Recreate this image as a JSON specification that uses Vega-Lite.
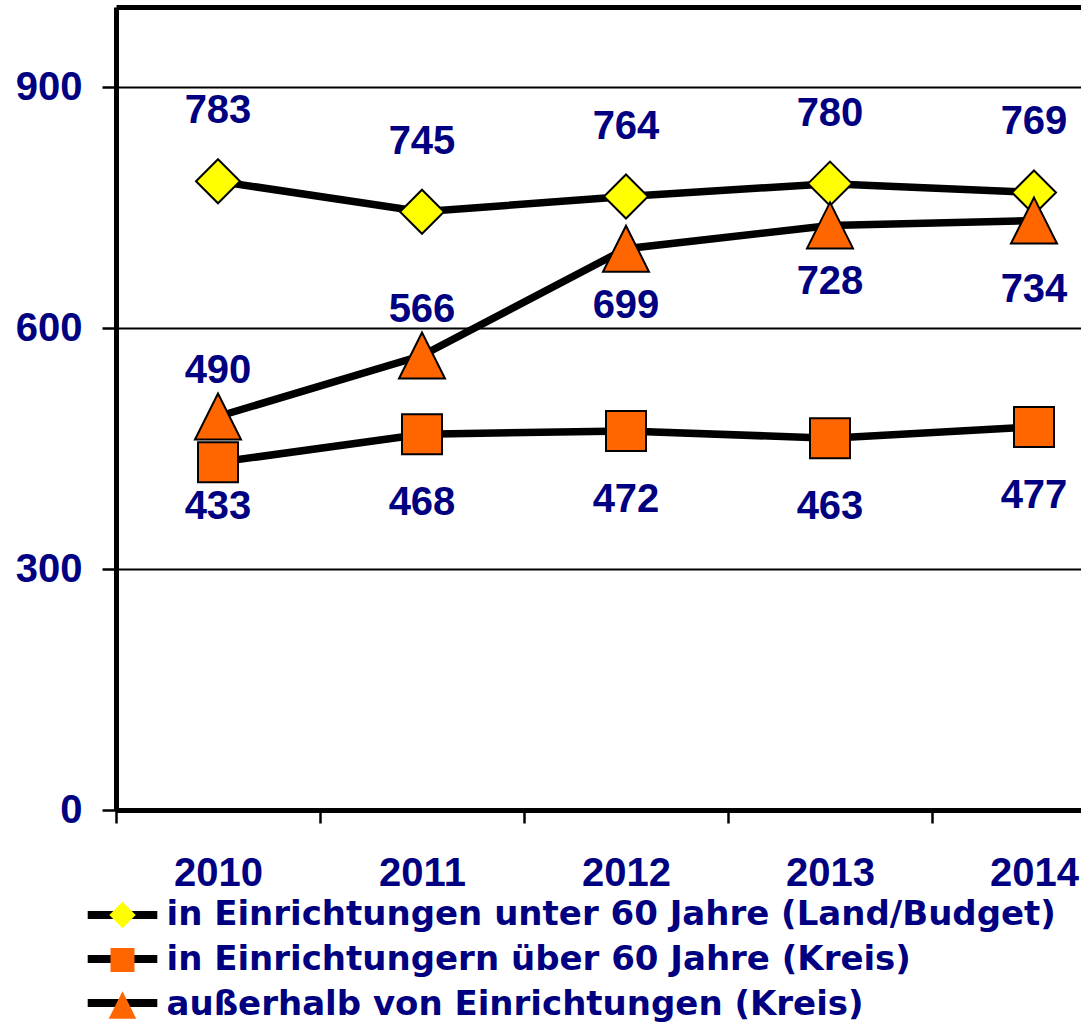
{
  "$schema": "https://vega.github.io/schema/vega-lite/v6.json",
  "width": 965,
  "height": 803,
  "autosize": {"type": "none"},
  "padding": {"left": 116, "top": 7, "right": 0, "bottom": 213},
  "background": "white",
  "config": {"view": {"stroke": null}, "font": "Liberation Sans"},
  "data": {
    "values": [
      {"year": "2010", "series": "in Einrichtungen unter 60 Jahre (Land/Budget)", "value": 783},
      {"year": "2011", "series": "in Einrichtungen unter 60 Jahre (Land/Budget)", "value": 745},
      {"year": "2012", "series": "in Einrichtungen unter 60 Jahre (Land/Budget)", "value": 764},
      {"year": "2013", "series": "in Einrichtungen unter 60 Jahre (Land/Budget)", "value": 780},
      {"year": "2014", "series": "in Einrichtungen unter 60 Jahre (Land/Budget)", "value": 769},
      {"year": "2010", "series": "in Einrichtungern über 60 Jahre (Kreis)", "value": 433},
      {"year": "2011", "series": "in Einrichtungern über 60 Jahre (Kreis)", "value": 468},
      {"year": "2012", "series": "in Einrichtungern über 60 Jahre (Kreis)", "value": 472},
      {"year": "2013", "series": "in Einrichtungern über 60 Jahre (Kreis)", "value": 463},
      {"year": "2014", "series": "in Einrichtungern über 60 Jahre (Kreis)", "value": 477},
      {"year": "2010", "series": "außerhalb von Einrichtungen (Kreis)", "value": 490},
      {"year": "2011", "series": "außerhalb von Einrichtungen (Kreis)", "value": 566},
      {"year": "2012", "series": "außerhalb von Einrichtungen (Kreis)", "value": 699},
      {"year": "2013", "series": "außerhalb von Einrichtungen (Kreis)", "value": 728},
      {"year": "2014", "series": "außerhalb von Einrichtungen (Kreis)", "value": 734}
    ]
  },
  "encoding": {
    "x": {
      "field": "year",
      "type": "ordinal",
      "scale": {"type": "band", "range": [0, 1020], "paddingInner": 0, "paddingOuter": 0},
      "axis": {
        "title": null,
        "tickBand": "extent",
        "grid": false,
        "domainColor": "black",
        "domainWidth": 5,
        "tickColor": "black",
        "tickWidth": 2.5,
        "tickSize": 13,
        "labelAngle": 0,
        "labelFont": "Liberation Sans",
        "labelFontSize": 40,
        "labelFontWeight": "bold",
        "labelColor": "#000080",
        "labelPadding": 30
      }
    },
    "y": {
      "field": "value",
      "type": "quantitative",
      "scale": {"domain": [0, 1000], "nice": false},
      "axis": {
        "title": null,
        "values": [0, 300, 600, 900, 1000],
        "grid": true,
        "gridColor": "black",
        "gridOpacity": 1,
        "gridWidth": {"condition": {"test": "datum.value == 1000", "value": 5}, "value": 2},
        "domainColor": "black",
        "domainWidth": 5,
        "tickColor": "black",
        "tickWidth": 2.5,
        "tickSize": 14,
        "tickOpacity": {"condition": {"test": "datum.value == 1000", "value": 0}, "value": 1},
        "labelExpr": "datum.value == 1000 ? '' : datum.label",
        "labelFont": "Liberation Sans",
        "labelFontSize": 40,
        "labelFontWeight": "bold",
        "labelColor": "#000080",
        "labelPadding": 20
      }
    }
  },
  "layer": [
    {
      "mark": {"type": "line", "strokeWidth": 7.5},
      "encoding": {
        "color": {
          "field": "series",
          "type": "nominal",
          "scale": {"range": ["black"]},
          "legend": {
            "orient": "none",
            "legendX": -10.5,
            "legendY": 891,
            "title": null,
            "zindex": 0,
            "values": ["in Einrichtungen unter 60 Jahre (Land/Budget)", "in Einrichtungern über 60 Jahre (Kreis)", "außerhalb von Einrichtungen (Kreis)"],
            "symbolType": "M-2.9,0H2.9",
            "symbolSize": 576,
            "symbolStrokeWidth": 8,
            "symbolStrokeColor": "black",
            "labelFont": "DejaVu Sans",
            "labelFontSize": 34,
            "labelFontWeight": "bold",
            "labelOpacity": 0,
            "labelOffset": 27,
            "labelLimit": 0,
            "rowPadding": 10
          }
        }
      }
    },
    {
      "mark": {"type": "point", "filled": true, "stroke": "black", "strokeWidth": 2, "opacity": 1, "size": 1600},
      "encoding": {
        "fill": {
          "field": "series",
          "type": "nominal",
          "scale": {
            "domain": ["in Einrichtungen unter 60 Jahre (Land/Budget)", "in Einrichtungern über 60 Jahre (Kreis)", "außerhalb von Einrichtungen (Kreis)"],
            "range": ["#FFFF00", "#FF6600", "#FF6600"]
          },
          "legend": {
            "orient": "none",
            "legendX": -10.5,
            "legendY": 891,
            "title": null,
            "zindex": 1,
            "symbolSize": 576,
            "symbolStrokeWidth": 2,
            "symbolStrokeColor": "black",
            "labelFont": "DejaVu Sans",
            "labelFontSize": 34,
            "labelFontWeight": "bold",
            "labelColor": "#000080",
            "labelOffset": 27,
            "labelLimit": 0,
            "rowPadding": 10
          }
        },
        "shape": {
          "field": "series",
          "type": "nominal",
          "scale": {
            "domain": ["in Einrichtungen unter 60 Jahre (Land/Budget)", "in Einrichtungern über 60 Jahre (Kreis)", "außerhalb von Einrichtungen (Kreis)"],
            "range": ["M0,-1.1L1.1,0L0,1.1L-1.1,0Z", "M-1,-1H1V1H-1Z", "M0,-1.15L1.15,1.15H-1.15Z"]
          },
          "legend": {
            "orient": "none",
            "legendX": -10.5,
            "legendY": 891,
            "title": null,
            "zindex": 1,
            "symbolSize": 576,
            "symbolStrokeWidth": 2,
            "symbolStrokeColor": "black",
            "labelFont": "DejaVu Sans",
            "labelFontSize": 34,
            "labelFontWeight": "bold",
            "labelColor": "#000080",
            "labelOffset": 27,
            "labelLimit": 0,
            "rowPadding": 10
          }
        }
      }
    },
    {
      "transform": [{"filter": "datum.series == 'in Einrichtungen unter 60 Jahre (Land/Budget)'"}],
      "mark": {"type": "text", "dy": -70, "fontSize": 40, "fontWeight": "bold", "font": "Liberation Sans", "color": "#000080", "baseline": "middle", "align": "center"},
      "encoding": {"text": {"field": "value", "type": "quantitative"}}
    },
    {
      "transform": [{"filter": "datum.series == 'außerhalb von Einrichtungen (Kreis)' && (datum.year == '2010' || datum.year == '2011')"}],
      "mark": {"type": "text", "dy": -46, "fontSize": 40, "fontWeight": "bold", "font": "Liberation Sans", "color": "#000080", "baseline": "middle", "align": "center"},
      "encoding": {"text": {"field": "value", "type": "quantitative"}}
    },
    {
      "transform": [{"filter": "datum.series == 'außerhalb von Einrichtungen (Kreis)' && (datum.year == '2012' || datum.year == '2013')"}],
      "mark": {"type": "text", "dy": 57, "fontSize": 40, "fontWeight": "bold", "font": "Liberation Sans", "color": "#000080", "baseline": "middle", "align": "center"},
      "encoding": {"text": {"field": "value", "type": "quantitative"}}
    },
    {
      "transform": [{"filter": "(datum.series == 'in Einrichtungern über 60 Jahre (Kreis)' && datum.year != '2010') || (datum.series == 'außerhalb von Einrichtungen (Kreis)' && datum.year == '2014')"}],
      "mark": {"type": "text", "dy": 69, "fontSize": 40, "fontWeight": "bold", "font": "Liberation Sans", "color": "#000080", "baseline": "middle", "align": "center"},
      "encoding": {"text": {"field": "value", "type": "quantitative"}}
    },
    {
      "transform": [{"filter": "datum.series == 'in Einrichtungern über 60 Jahre (Kreis)' && datum.year == '2010'"}],
      "mark": {"type": "text", "dy": 45, "fontSize": 40, "fontWeight": "bold", "font": "Liberation Sans", "color": "#000080", "baseline": "middle", "align": "center"},
      "encoding": {"text": {"field": "value", "type": "quantitative"}}
    }
  ]
}
